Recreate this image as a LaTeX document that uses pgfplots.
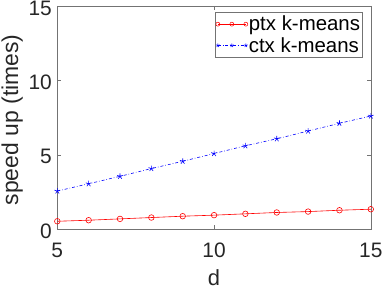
\documentclass[border=0pt]{standalone}
\usepackage{pgfplots}
\pgfplotsset{compat=1.18}
\usepackage{fontspec}
\setmainfont{Liberation Sans}
\begin{document}
\begin{tikzpicture}
\useasboundingbox (-57.3bp,-58.7bp) rectangle (324.7bp,229.3bp);
\begin{axis}[
  at={(0,0)}, anchor=south west,
  scale only axis,
  width=313.5bp, height=223.3bp,
  xmin=5, xmax=15, ymin=0, ymax=15,
  xtick={5,10,15}, ytick={0,5,10,15},
  tick align=inside,
  major tick length=4bp,
  axis line style={black!55, line width=0.5bp},
  every tick/.style={black!55, line width=0.5bp},
  /pgf/number format/assume math mode=true,
  tick label style={font=\fontsize{21}{25}\selectfont, text=black!85},
  xticklabel style={anchor=base, yshift=-28bp},
  yticklabel style={xshift=-2bp, yshift=-2bp},
  label style={text=black!85},
  xlabel={d},
  ylabel={speed up (times)},
  xlabel style={font=\fontsize{22}{26}\selectfont, at={(axis description cs:0.5,0)}, anchor=base, yshift=-56bp, inner sep=0pt},
  ylabel style={font=\fontsize{23}{27}\selectfont, at={(axis description cs:-0.1094,0.49)}, anchor=south, inner sep=0pt},
  legend style={at={(0.973,0.972)}, anchor=north east,
    font=\fontsize{20.5}{24}\selectfont, draw=black!55, line width=0.5bp,
    inner xsep=1bp, inner ysep=2.5bp, row sep=3bp, column sep=0pt, text=black,
    nodes={inner sep=1bp}},
  legend cell align=left,
  legend image code/.code={\draw[#1, mark size=2bp, line width=0.5bp] plot coordinates {(0bp,0bp) (14bp,0bp) (28bp,0bp)};},
]
\addplot[red, line width=0.6bp, mark=o, mark size=2.8bp, mark options={solid}] coordinates {
(5,0.54) (6,0.61) (7,0.70) (8,0.79) (9,0.88) (10,0.95) (11,1.04) (12,1.13) (13,1.19) (14,1.28) (15,1.35)};
\addlegendentry{ptx k-means}
\addplot[blue, line width=0.6bp, dash dot, mark=star, mark size=3bp, mark options={solid, fill=blue}] coordinates {
(5,2.57) (6,3.06) (7,3.56) (8,4.08) (9,4.57) (10,5.09) (11,5.61) (12,6.08) (13,6.60) (14,7.12) (15,7.61)};
\addlegendentry{ctx k-means}
\end{axis}
\end{tikzpicture}
\end{document}
